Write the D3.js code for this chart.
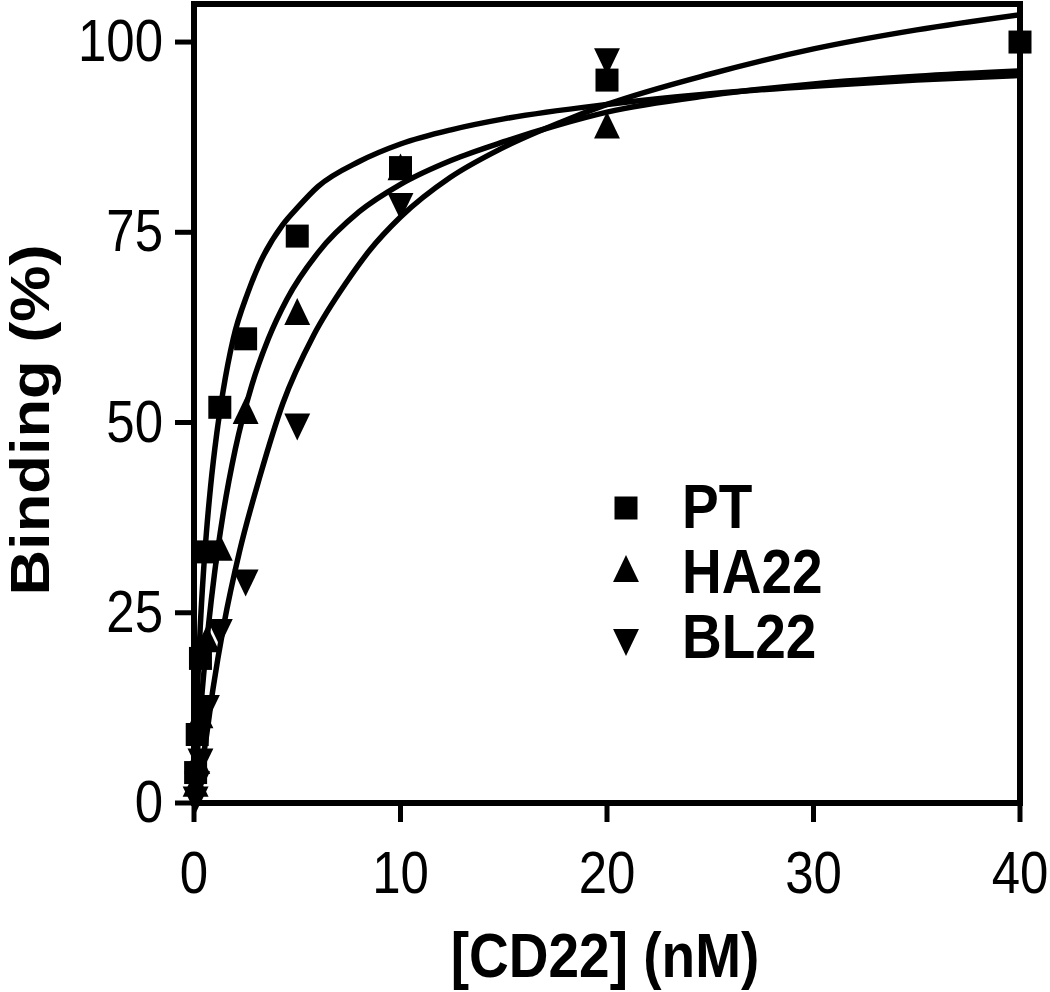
<!DOCTYPE html>
<html>
<head>
<meta charset="utf-8">
<script src="https://cdn.jsdelivr.net/npm/d3@7"></script>
<style>
  html, body { margin: 0; padding: 0; background: #fff; }
  text { font-family: Arial, "Liberation Sans", sans-serif; fill: #000; }
</style>
</head>
<body>
<svg id="chart"></svg>
<script>
// concentrations used for the measured points (nM)
const conc = [0.078, 0.156, 0.3125, 0.625, 1.25, 2.5, 5, 10, 20, 40];

const ptValues   = [4, 9, 19, 33, 52, 61, 74.5, 83.5, 95, 100];
const ha22Values = [2, 5, 11, 21, 33, 51, 64, 83, 88.5, null];
const bl22Values = [1, 3, 6, 13, 23, 29.5, 50, 79, 98, null];

// fitted curves as [nM, %]
const ptCurve = [[0,0],[0.05,5],[0.1,9.5],[0.2,17],[0.3,23],[0.45,30],[0.6,35.5],[0.8,41.5],[1.1,48.5],[1.4,54],[1.9,61],[2.6,67],[3.2,71],[4.3,76],[5,78.2],[6,81],[8,84.3],[10,86.6],[12.5,88.5],[15,89.9],[20,91.8],[25,93.2],[30,94.2],[35,95],[40,95.6]];
const ha22Curve = [[0,0],[0.1,4.2],[0.2,8],[0.4,14.8],[0.7,23.3],[1,30.3],[1.4,37.8],[2,46.5],[2.8,54.9],[3.6,61],[4.5,66.2],[6,72.3],[8,77.7],[10,81.3],[12.5,84.5],[15,86.9],[17.5,89],[20,90.8],[25,93],[30,94.5],[35,95.5],[40,96.2]];
const bl22Curve = [[0,0],[0.25,3.5],[0.53,7.5],[0.92,15],[1.45,23.5],[2.2,33],[3.2,43],[4.3,52.5],[5.8,61.5],[7.4,68.5],[8.5,72.6],[10,77],[12.4,82.2],[14.8,85.9],[17.7,89.4],[20,91.8],[25,95.8],[30,99.1],[35,101.6],[40,103.6]];

const xTicks = [0, 10, 20, 30, 40];
const yTicks = [0, 25, 50, 75, 100];

const seriesNames = ["PT", "HA22", "BL22"];

const width = 1050, height = 992;
const stretch = 1.15; // the picture's text is taller than it is wide

const svg = d3.select("#chart").attr("width", width).attr("height", height);

const x = d3.scaleLinear().domain([0, 40]).range([194, 1020]);
const y = d3.scaleLinear().domain([0, 105]).range([803, 4]);

// frame
const frame = svg.append("g").attr("stroke", "#000").attr("stroke-width", 6).attr("fill", "none");
frame.append("rect")
  .attr("x", x(0)).attr("y", y(105))
  .attr("width", x(40) - x(0)).attr("height", y(0) - y(105));

// y ticks
frame.selectAll(".yt").data(yTicks).enter().append("line")
  .attr("x1", x(0) - 19).attr("x2", x(0))
  .attr("y1", d => y(d)).attr("y2", d => y(d))
  .attr("stroke-width", 5);

// x ticks
frame.selectAll(".xt").data(xTicks).enter().append("line")
  .attr("x1", d => x(d)).attr("x2", d => x(d))
  .attr("y1", y(0)).attr("y2", y(0) + 19)
  .attr("stroke-width", 5);

svg.selectAll(".ylab").data(yTicks).enter().append("text")
  .attr("transform", d => `translate(163,${y(d) + 19}) scale(1,${stretch})`)
  .attr("text-anchor", "end")
  .attr("font-size", 51)
  .text(d => d);

svg.selectAll(".xlab").data(xTicks).enter().append("text")
  .attr("transform", d => `translate(${x(d)},${y(0) + 90}) scale(1,${stretch})`)
  .attr("text-anchor", "middle")
  .attr("font-size", 51)
  .text(d => d);

// axis titles
svg.append("text")
  .attr("transform", `translate(49,420) rotate(-90) scale(${stretch},1)`)
  .attr("text-anchor", "middle")
  .attr("font-size", 55).attr("font-weight", "bold")
  .text("Binding (%)");

svg.append("text")
  .attr("transform", `translate(605,977) scale(1,${stretch})`)
  .attr("text-anchor", "middle")
  .attr("font-size", 55).attr("font-weight", "bold")
  .text("[CD22] (nM)");

// curves
const line = d3.line()
  .x(d => x(d[0]))
  .y(d => y(d[1]))
  .curve(d3.curveMonotoneX);

[ptCurve, ha22Curve, bl22Curve].forEach(c => {
  svg.append("path")
    .attr("d", line(c))
    .attr("fill", "none")
    .attr("stroke", "#000")
    .attr("stroke-width", 5.5);
});

// markers
const squareSym = d3.symbol().type(d3.symbolSquare).size(23 * 23)();
const triSym = d3.symbol().type(d3.symbolTriangle).size(290)();

function markerTransform(type, px, py) {
  if (type === "PT") return `translate(${px},${py})`;
  if (type === "HA22") return `translate(${px},${py}) scale(1,1.2)`;
  return `translate(${px},${py}) scale(1,-1.2)`;
}

const seriesValues = [ptValues, ha22Values, bl22Values];
seriesNames.forEach((name, i) => {
  svg.append("g").selectAll("path")
    .data(conc.map((c, j) => [c, seriesValues[i][j]]).filter(d => d[1] != null))
    .enter().append("path")
    .attr("d", name === "PT" ? squareSym : triSym)
    .attr("transform", d => markerTransform(name, x(d[0]), y(d[1])))
    .attr("fill", "#000");
});

// legend
const legend = svg.append("g").attr("transform", "translate(626,508)");
seriesNames.forEach((name, i) => {
  const row = legend.append("g").attr("transform", `translate(0,${i * 65})`);
  row.append("path")
    .attr("d", name === "PT" ? squareSym : triSym)
    .attr("transform", markerTransform(name, 0, 0))
    .attr("fill", "#000");
  row.append("text")
    .attr("transform", `translate(56,20) scale(1,${stretch})`)
    .attr("font-size", 55).attr("font-weight", "bold")
    .text(name);
});
</script>
</body>
</html>
